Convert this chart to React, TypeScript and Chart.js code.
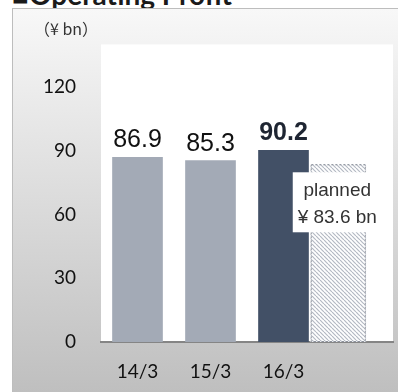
import React, { useEffect, useRef } from 'react';
import { Chart, registerables } from 'chart.js';

Chart.register(...registerables);

// ---- data ----
const title = '■Operating Profit';
const unitLabel = '（¥ bn）';
const categories = ['14/3', '15/3', '16/3', ''];
const actualValues: (number | null)[] = [86.9, 85.3, 90.2, null];
const actualLabels = ['86.9', '85.3', '90.2'];
const highlightIndex = 2;
const plannedValue = 83.6;
const plannedSlot = 2.75; // planned bar sits right beside the 16/3 bar
const plannedText = ['planned', '¥ 83.6 bn'];
const yTicks = [0, 30, 60, 90, 120];
const yMax = 140;

const LABEL_FONT = '"Liberation Sans", Arial, sans-serif';
const TICK_FONT = 'Lato, "Open Sans", sans-serif';

function makeHatch(): CanvasPattern | string {
  const c = document.createElement('canvas');
  c.width = 4;
  c.height = 4;
  const g = c.getContext('2d');
  if (!g) return '#e0e2e6';
  g.fillStyle = '#ffffff';
  g.fillRect(0, 0, 4, 4);
  g.strokeStyle = '#b4b9c3';
  g.lineWidth = 1.2;
  for (const k of [-4, 0, 4]) {
    g.beginPath();
    g.moveTo(k, 0);
    g.lineTo(k + 4, 4);
    g.stroke();
  }
  return g.createPattern(c, 'repeat') || '#e0e2e6';
}

export default function App() {
  const ref = useRef<HTMLCanvasElement | null>(null);

  useEffect(() => {
    if (!ref.current) return;

    const plotBg = {
      id: 'plotBg',
      beforeDraw(chart: any) {
        const { ctx, chartArea } = chart;
        ctx.save();
        ctx.fillStyle = '#ffffff';
        ctx.fillRect(chartArea.left, chartArea.top, chartArea.right - chartArea.left, chartArea.bottom - chartArea.top);
        ctx.restore();
      },
    };

    const annotations = {
      id: 'annotations',
      afterDatasetsDraw(chart: any) {
        const { ctx } = chart;
        ctx.save();
        // value labels
        const meta0 = chart.getDatasetMeta(0);
        actualLabels.forEach((txt, i) => {
          const el = meta0.data[i];
          if (!el) return;
          const p = el.getProps(['x', 'y'], true);
          const bold = i === highlightIndex;
          ctx.font = `${bold ? 'bold ' : ''}25px ${LABEL_FONT}`;
          ctx.fillStyle = bold ? '#1e2532' : '#111111';
          ctx.textAlign = 'center';
          ctx.textBaseline = 'alphabetic';
          ctx.fillText(txt, p.x, p.y - 10);
        });
        // planned bar dashed border and label box
        const meta1 = chart.getDatasetMeta(1);
        const pel = meta1.data[0];
        if (pel) {
          const p = pel.getProps(['x', 'y', 'base', 'width'], true);
          ctx.strokeStyle = '#8c919b';
          ctx.lineWidth = 1;
          ctx.setLineDash([2, 2]);
          ctx.strokeRect(p.x - p.width / 2 + 0.5, p.y + 0.5, p.width - 1, p.base - p.y - 1);
          ctx.setLineDash([]);
          const bw = 89;
          const bh = 60;
          const bx = p.x - bw / 2 - 1;
          const by = p.y + 8;
          ctx.fillStyle = '#ffffff';
          ctx.fillRect(bx, by, bw, bh);
          ctx.fillStyle = '#333333';
          ctx.font = `19px ${LABEL_FONT}`;
          ctx.textAlign = 'center';
          ctx.textBaseline = 'alphabetic';
          ctx.fillText(plannedText[0], bx + bw / 2, by + 24);
          ctx.fillText(plannedText[1], bx + bw / 2, by + 51);
        }
        // unit label
        ctx.fillStyle = '#333333';
        ctx.font = '16px "Noto Sans CJK JP", sans-serif';
        ctx.textAlign = 'center';
        ctx.textBaseline = 'middle';
        ctx.fillText(unitLabel, 54, 21);
        ctx.restore();
      },
    };

    const chart = new Chart(ref.current, {
      type: 'bar',
      data: {
        labels: categories,
        datasets: [
          {
            label: 'actual',
            data: actualValues,
            xAxisID: 'x',
            backgroundColor: actualValues.map((_, i) => (i === highlightIndex ? '#425066' : '#a3aab6')),
            barThickness: 50,
            grouped: false,
          } as any,
          {
            label: 'planned',
            data: [{ x: plannedSlot, y: plannedValue }],
            xAxisID: 'x2',
            backgroundColor: makeHatch(),
            barThickness: 55,
            grouped: false,
          } as any,
        ],
      },
      options: {
        responsive: false,
        animation: false,
        devicePixelRatio: 1,
        layout: { padding: { left: 0, top: 22, right: 5, bottom: 0 } },
        plugins: {
          legend: { display: false },
          tooltip: { enabled: false },
          title: { display: false },
        },
        scales: {
          x: {
            type: 'category',
            offset: true,
            grid: { display: false, drawTicks: false },
            border: { display: true, color: '#858585', width: 2 },
            ticks: {
              color: '#111111',
              font: { family: TICK_FONT, size: 19 },
              padding: 18,
              maxRotation: 0,
            },
            afterFit(scale: any) {
              scale.height = 50;
            },
          },
          x2: {
            type: 'linear',
            display: false,
            bounds: 'data',
            offset: false,
            min: -0.5,
            max: categories.length - 0.5,
          } as any,
          y: {
            min: 0,
            max: yMax,
            grid: { display: false, drawTicks: false },
            border: { display: false },
            afterBuildTicks(scale: any) {
              scale.ticks = yTicks.map((v) => ({ value: v }));
            },
            ticks: {
              color: '#111111',
              font: { family: TICK_FONT, size: 19 },
              padding: 25,
            },
            afterFit(scale: any) {
              scale.width = 89;
            },
          },
        },
      },
      plugins: [plotBg, annotations],
    });
    return () => chart.destroy();
  }, []);

  return (
    <div style={{ position: 'fixed', left: 0, top: 0, width: 398, height: 392, overflow: 'hidden', background: '#ffffff' }}>
      <div
        style={{
          position: 'absolute',
          left: 12,
          top: -20,
          fontFamily: 'Lato, "Liberation Sans", sans-serif',
          fontWeight: 'bold',
          fontSize: 28,
          lineHeight: '28px',
          color: '#1a1a1a',
          whiteSpace: 'nowrap',
        }}
      >
        {title}
      </div>
      <div
        style={{
          position: 'absolute',
          left: 12,
          top: 8,
          width: 386,
          height: 384,
          boxSizing: 'border-box',
          borderTop: '1px solid #bdbdbd',
          borderLeft: '1px solid #bdbdbd',
          background: 'linear-gradient(#f8f8f8, #bfbfbf)',
        }}
      />
      <canvas ref={ref} width={386} height={384} style={{ position: 'absolute', left: 12, top: 8, width: 386, height: 384 }} />
    </div>
  );
}
